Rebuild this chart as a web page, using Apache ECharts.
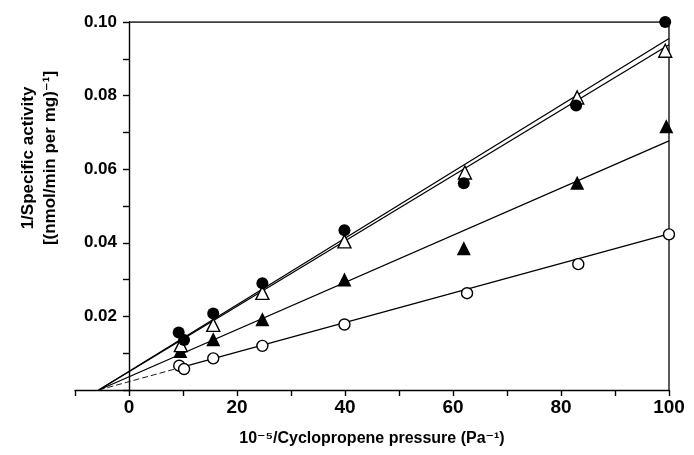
<!DOCTYPE html>
<html>
<head>
<meta charset="utf-8">
<script src="https://cdn.jsdelivr.net/npm/echarts@6/dist/echarts.min.js"></script>
<style>html,body{margin:0;padding:0;background:#fff}#c{width:694px;height:455px}</style>
</head>
<body>
<div id="c"></div>
<script>
// ---- data ----
var filledCircleX = [9.2, 10.2, 15.6, 24.7, 39.9, 62.0, 82.8, 99.3];
var filledCircleY = [0.0156, 0.0136, 0.0208, 0.0290, 0.0434, 0.0562, 0.0773, 0.1000];
var openTriangleX = [9.6, 15.6, 24.7, 39.9, 62.2, 83.0, 99.3];
var openTriangleY = [0.0122, 0.0177, 0.0264, 0.0404, 0.0591, 0.0795, 0.0922];
var filledTriangleX = [9.5, 15.6, 24.7, 39.9, 62.0, 83.0, 99.5];
var filledTriangleY = [0.0106, 0.0138, 0.0192, 0.0300, 0.0385, 0.0563, 0.0717];
var openCircleX = [9.3, 10.2, 15.6, 24.7, 39.9, 62.6, 83.2, 100];
var openCircleY = [0.0066, 0.0057, 0.0086, 0.0120, 0.0178, 0.0263, 0.0342, 0.0423];

var fitX = [-5.6, 100];
var fitFilledCircleY = [0, 0.0955];
var fitOpenTriangleY = [0, 0.0938];
var fitFilledTriangleY = [0, 0.0677];
var fitOpenCircleX = [-5.6, 10, 100];
var fitOpenCircleY = [0, 0.0063, 0.0424];

var frameX = [0, 100, 100];
var frameY = [0.10, 0.10, 0];

var xTitle = '10\u207B\u2075/Cyclopropene pressure (Pa\u207B\u00B9)';
var yTitle = '1/Specific activity\n[(nmol/min per mg)\u207B\u00B9]';

function zip(xs, ys) { return xs.map(function (x, i) { return [x, ys[i]]; }); }

var FONT = '"Liberation Sans", Arial, "DejaVu Sans", sans-serif';
var lineStyle = { color: '#000', width: 1.4 };

function fitSeries(data, dashed) {
  return {
    type: 'line', data: data, symbol: 'none', silent: true, z: 2,
    lineStyle: { color: '#000', width: dashed ? 0.9 : 1.3, type: dashed ? [6, 3] : 'solid' },
    animation: false
  };
}
function pointSeries(data, symbol, filled, size) {
  return {
    type: 'scatter', data: data, symbol: symbol, symbolSize: size, z: 5,
    itemStyle: { color: filled ? '#000' : '#fff', borderColor: '#000', borderWidth: filled ? 0 : 1.4, opacity: 1 },
    animation: false
  };
}

var GRID_LEFT = 75, GRID_RIGHT = 25, XMIN = -10, XMAX = 100;
var plotW = 694 - GRID_LEFT - GRID_RIGHT;
var yAxisShift = (0 - XMIN) / (XMAX - XMIN) * plotW; // move y axis onto x = 0

var chart = echarts.init(document.getElementById('c'), null, { renderer: 'canvas' });
chart.setOption({
  backgroundColor: '#fff',
  animation: false,
  grid: { left: GRID_LEFT, right: GRID_RIGHT, top: 22, bottom: 65, containLabel: false, outerBoundsMode: 'none' },
  xAxis: {
    type: 'value', min: XMIN, max: XMAX, interval: 10,
    splitLine: { show: false },
    axisLine: { lineStyle: lineStyle },
    axisTick: { length: 6, lineStyle: lineStyle },
    axisLabel: {
      color: '#000', fontSize: 19, fontWeight: 'bold', fontFamily: FONT, margin: 8,
      formatter: function (v) { var r = Math.round(v); return (r >= 0 && r % 20 === 0) ? String(r) : ''; }
    },
    name: xTitle, nameLocation: 'middle', nameGap: 41,
    nameTextStyle: { color: '#000', fontSize: 16, fontWeight: 'bold', fontFamily: FONT }
  },
  yAxis: {
    type: 'value', min: 0, max: 0.1, interval: 0.01,
    position: 'left', offset: -yAxisShift,
    splitLine: { show: false },
    axisLine: { onZero: false, lineStyle: lineStyle },
    axisTick: { length: 6, lineStyle: lineStyle },
    axisLabel: {
      color: '#000', fontSize: 17, fontWeight: 'bold', fontFamily: FONT, margin: 12,
      formatter: function (v) { var r = Math.round(v * 100); return (r > 0 && r % 2 === 0) ? (r / 100).toFixed(2) : ''; }
    }
  },
  graphic: [{
    type: 'text', x: 39, y: 158, rotation: Math.PI / 2, silent: true,
    style: {
      text: yTitle, fill: '#000', fontSize: 17, fontWeight: 'bold', fontFamily: FONT,
      lineHeight: 22, align: 'center', verticalAlign: 'middle'
    }
  }],
  series: [
    fitSeries(zip(frameX, frameY), false),
    fitSeries(zip(fitX, fitFilledCircleY), false),
    fitSeries(zip(fitX, fitOpenTriangleY), false),
    fitSeries(zip(fitX, fitFilledTriangleY), false),
    fitSeries(zip(fitOpenCircleX.slice(0, 2), fitOpenCircleY.slice(0, 2)), true),
    fitSeries(zip(fitOpenCircleX.slice(1), fitOpenCircleY.slice(1)), false),
    pointSeries(zip(openCircleX, openCircleY), 'circle', false, 11),
    pointSeries(zip(filledTriangleX, filledTriangleY), 'triangle', true, 14),
    pointSeries(zip(openTriangleX, openTriangleY), 'triangle', false, 13),
    pointSeries(zip(filledCircleX, filledCircleY), 'circle', true, 12)
  ]
});
</script>
</body>
</html>
